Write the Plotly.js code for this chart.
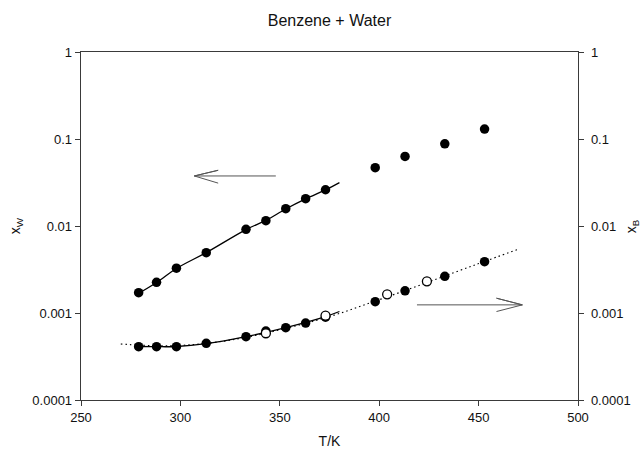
<!DOCTYPE html>
<html>
<head>
<meta charset="utf-8">
<script src="https://cdn.plot.ly/plotly-3.0.1.min.js"></script>
<style>html,body{margin:0;padding:0;background:#fff;}#chart{width:644px;height:454px;}</style>
</head>
<body>
<div id="chart"></div>
<script>
// Water solubility in benzene, x_W (left axis)
var tW = [279, 288, 298, 313, 333, 343, 353, 363, 373, 398, 413, 433, 453];
var xW = [0.00171, 0.00225, 0.00327, 0.00493, 0.00916, 0.0115, 0.0158, 0.0206, 0.0261, 0.0468, 0.063, 0.088, 0.13];
// Solid correlation line for x_W
var tWLine = [279, 288, 298, 313, 333, 343, 353, 363, 373, 380];
var xWLine = [0.00168, 0.00224, 0.00325, 0.00495, 0.0091, 0.0116, 0.0157, 0.0205, 0.026, 0.0315];

// Benzene solubility in water, x_B (right axis), filled
var tB = [279, 288, 298, 313, 333, 343, 353, 363, 373, 398, 413, 433, 453];
var xB = [0.00041, 0.00041, 0.00041, 0.000448, 0.000535, 0.00062, 0.000678, 0.000767, 0.000895, 0.00135, 0.0018, 0.00264, 0.00389];
// x_B open circles
var tBOpen = [343, 373, 404, 424];
var xBOpen = [0.000585, 0.000932, 0.00164, 0.00231];
// Solid line for x_B
var tBLine = [279, 288, 298, 313, 333, 353, 373, 380];
var xBLine = [0.000412, 0.000410, 0.000412, 0.000445, 0.000535, 0.00068, 0.00091, 0.00104];
// Dotted line for x_B
var tBDot = [270, 290, 310, 330, 350, 375, 400, 425, 450, 470];
var xBDot = [0.00044, 0.00042, 0.00044, 0.00051, 0.00064, 0.00091, 0.00142, 0.00228, 0.0037, 0.0054];

// Arrows (pointing to the axis each curve belongs to)
var arrowLeftT = [348, 307, 319, 307, 319];
var arrowLeftY = [0.0376, 0.0376, 0.0437, 0.0376, 0.0311];
var arrowRightT = [419, 472, 459, 472, 459];
var arrowRightY = [0.00124, 0.00124, 0.00148, 0.00124, 0.00104];

var xTicks = [250, 300, 350, 400, 450, 500];
var yTicks = [0.0001, 0.001, 0.01, 0.1, 1];
var yTickText = ['0.0001', '0.001', '0.01', '0.1', '1'];

var FONT = 'Arial, "Liberation Sans", sans-serif';
var AX = '#3a3a3a';

var traces = [
  {x: tWLine, y: xWLine, mode: 'lines', line: {color: '#000', width: 1.3, shape: 'spline'}, hoverinfo: 'skip', showlegend: false},
  {x: tBDot, y: xBDot, yaxis: 'y2', mode: 'lines', line: {color: '#000', width: 1.1, dash: '1.5px,3px', shape: 'spline'}, hoverinfo: 'skip', showlegend: false},
  {x: tBLine, y: xBLine, yaxis: 'y2', mode: 'lines', line: {color: '#000', width: 1.3, shape: 'spline'}, hoverinfo: 'skip', showlegend: false},
  {x: tW, y: xW, mode: 'markers', marker: {color: '#000', size: 9.5, line: {width: 0}}, name: 'x_W', showlegend: false},
  {x: tB, y: xB, yaxis: 'y2', mode: 'markers', marker: {color: '#000', size: 9.5, line: {width: 0}}, name: 'x_B', showlegend: false},
  {x: tBOpen, y: xBOpen, yaxis: 'y2', mode: 'markers', marker: {color: '#fff', size: 9, line: {color: '#000', width: 1.3}}, name: 'x_B (other)', showlegend: false},
  {x: arrowLeftT, y: arrowLeftY, mode: 'lines', line: {color: '#555', width: 1}, hoverinfo: 'skip', showlegend: false},
  {x: arrowRightT, y: arrowRightY, yaxis: 'y2', mode: 'lines', line: {color: '#555', width: 1}, hoverinfo: 'skip', showlegend: false}
];

var yCommon = {
  type: 'log', range: [-4, 0], tickmode: 'array', tickvals: yTicks, ticktext: yTickText,
  showgrid: false, zeroline: false, showline: true, linecolor: AX, linewidth: 1.3,
  ticks: 'outside', ticklen: 5, tickcolor: AX, tickwidth: 1,
  tickfont: {family: FONT, size: 13, color: '#111'}
};

var layout = {
  width: 644, height: 454,
  margin: {l: 81, r: 66, t: 52, b: 54},
  paper_bgcolor: '#fff', plot_bgcolor: '#fff',
  font: {family: FONT, color: '#111'},
  title: {text: 'Benzene + Water', font: {family: FONT, size: 16, color: '#111'}, xref: 'paper', x: 0.5, xanchor: 'center', yref: 'container', y: 0.955, yanchor: 'middle'},
  xaxis: {
    range: [250, 500], tickmode: 'array', tickvals: xTicks,
    showgrid: false, zeroline: false, showline: true, linecolor: AX, linewidth: 1.3, mirror: true,
    ticks: 'outside', ticklen: 5, tickcolor: AX, tickwidth: 1,
    tickfont: {family: FONT, size: 13, color: '#111'},
    title: {text: 'T/K', font: {family: FONT, size: 14, color: '#111'}, standoff: 12}
  },
  yaxis: Object.assign({}, yCommon, {side: 'left', title: {text: 'x<sub>W</sub>', font: {family: FONT, size: 14, color: '#111'}, standoff: 8}}),
  yaxis2: Object.assign({}, yCommon, {side: 'right', overlaying: 'y', ticklabelstandoff: 4}),
  annotations: [
    {text: 'x<sub>B</sub>', xref: 'paper', yref: 'paper', x: 1.109, y: 0.5, xanchor: 'center', yanchor: 'middle', textangle: -90, showarrow: false, font: {family: FONT, size: 14, color: '#111'}}
  ],
  showlegend: false
};

Plotly.newPlot('chart', traces, layout, {displayModeBar: false, staticPlot: true});
</script>
</body>
</html>
